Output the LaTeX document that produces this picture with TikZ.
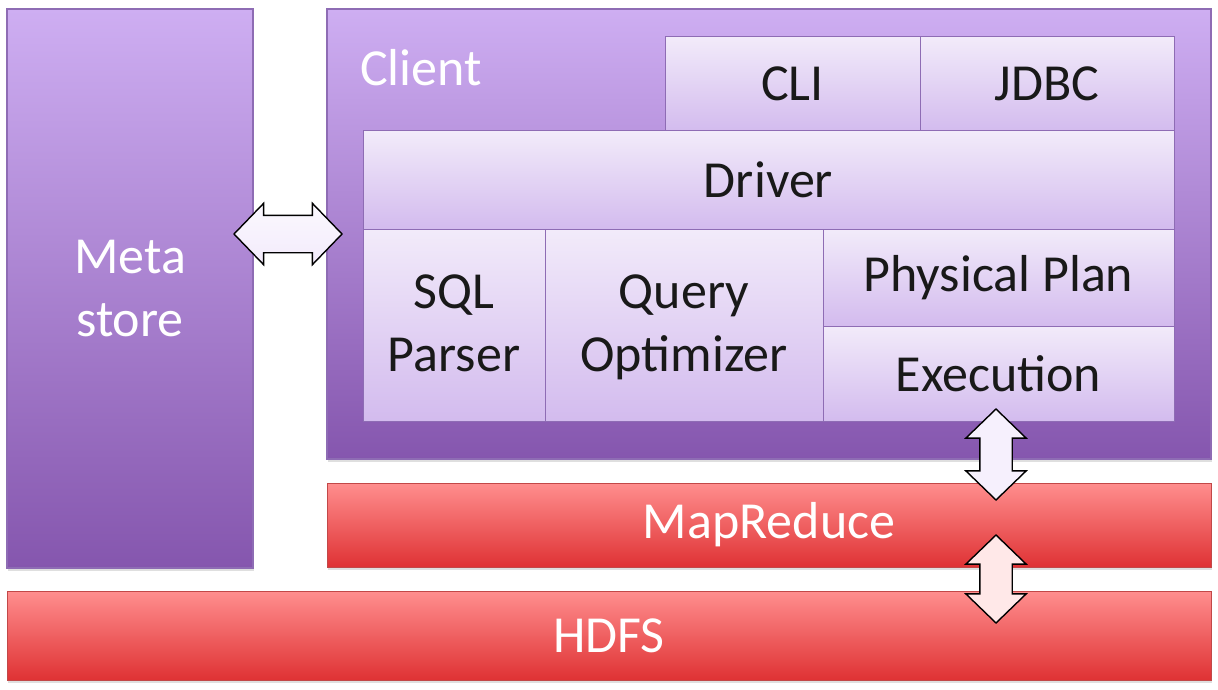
\documentclass[tikz,border=0pt]{standalone}
\usepackage{fontspec}
\setmainfont{Carlito}
\usetikzlibrary{shapes.arrows,shadows}

\definecolor{lilatop}{HTML}{CEAEF2}
\definecolor{lilamid}{HTML}{AD86D8}
\definecolor{lilabot}{HTML}{8556AE}
\definecolor{lilaline}{HTML}{8E6CB4}
\definecolor{paletop}{HTML}{F2EBFA}
\definecolor{palebot}{HTML}{D3BBEE}
\definecolor{redtop}{HTML}{FF8E8E}
\definecolor{redbot}{HTML}{DF3234}
\definecolor{redline}{HTML}{C24848}

\tikzset{
  outbox/.style={rectangle,draw=lilaline,line width=1.2pt,inner sep=0pt,
    top color=lilatop,middle color=lilamid,bottom color=lilabot,
    drop shadow={opacity=0.25,shadow xshift=1pt,shadow yshift=-3pt}},
  inbox/.style={rectangle,draw=lilaline,line width=1pt,inner sep=0pt,
    top color=paletop,bottom color=palebot,text=black!90,align=center},
  redbox/.style={rectangle,draw=redline,line width=1pt,inner sep=0pt,
    top color=redtop,middle color=redtop!80!redbot,bottom color=redbot,text=white,
    drop shadow={opacity=0.25,shadow xshift=1pt,shadow yshift=-3pt}},
  blockarrow/.style={double arrow,draw=black,line width=1.4pt,inner xsep=0pt,
    double arrow tip angle=92,minimum height=#1},
}

\begin{document}
\begin{tikzpicture}[x=1pt,y=-1pt,font=\fontsize{52}{63}\selectfont]
\useasboundingbox (0,0) rectangle (1218,690);

\node[outbox,minimum width=246,minimum height=559,text=white,align=center] (meta) at (130,288.5) {Meta\\store};
\node[outbox,minimum width=884,minimum height=450] (client) at (769,234) {};
\node[text=white,anchor=west,inner sep=0pt] (clientlbl) at (360,68) {Client};

\node[inbox,minimum width=255,minimum height=94] (cli) at (792.5,84) {CLI};
\node[inbox,minimum width=254,minimum height=94] (jdbc) at (1047,84) {JDBC};
\node[inbox,minimum width=811,minimum height=98] (driver) at (768.5,180) {Driver};
\node[inbox,minimum width=182,minimum height=192,text depth=3pt] (sql) at (454,325) {SQL\\Parser};
\node[inbox,minimum width=278,minimum height=192,text depth=3pt] (qopt) at (684,325) {Query\\Optimizer};
\node[inbox,minimum width=351,minimum height=97] (phys) at (998.5,277.5) {Physical Plan};
\node[inbox,minimum width=351,minimum height=95] (exec) at (998.5,373.5) {Execution};

\node[redbox,minimum width=884,minimum height=84] (mapred) at (769,525) {MapReduce};
\node[redbox,minimum width=1204,minimum height=89] (hdfs) at (609,635.5) {HDFS};

\node[blockarrow=108,inner ysep=18pt,double arrow head extend=12pt,
  top color=white!92!lilatop,bottom color=white!75!lilatop] (metaarrow) at (288,234) {};
\node[blockarrow=91,inner ysep=15.5pt,double arrow head extend=14pt,rotate=90,
  fill=white!82!lilatop] (execarrow) at (996,454.5) {};
\node[blockarrow=88,inner ysep=15.5pt,double arrow head extend=14pt,rotate=90,
  fill=white!80!redtop] (hdfsarrow) at (996,579) {};
\end{tikzpicture}
\end{document}
